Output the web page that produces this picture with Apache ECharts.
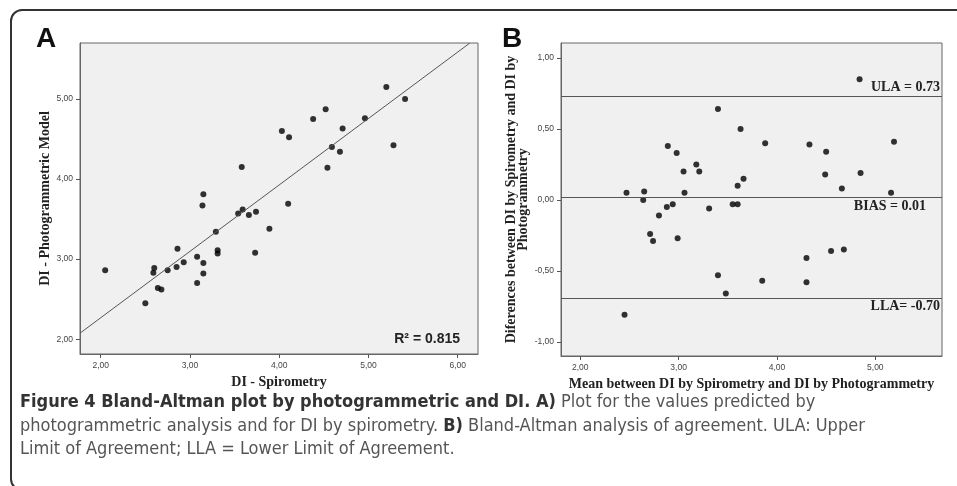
<!DOCTYPE html>
<html>
<head>
<meta charset="utf-8">
<title>Figure 4 Bland-Altman</title>
<script src="https://cdn.jsdelivr.net/npm/echarts@6/dist/echarts.min.js"></script>
<style>
  html, body { margin: 0; padding: 0; background: #fff; overflow: hidden; }
  #frame { position: absolute; left: 10px; top: 9px; width: 1000px; height: 478px;
           border: 2px solid #333; border-radius: 12px; }
  #main { position: absolute; left: 0; top: 0; width: 957px; height: 486px; }
  #caption { position: absolute; left: 20px; top: 389px; width: 935px; white-space: nowrap;
             font-family: "DejaVu Sans Condensed", "Liberation Sans Narrow", sans-serif;
             font-size: 18px; line-height: 23.5px; color: #555; }
  #caption b { color: #333; }
</style>
</head>
<body>
<div id="frame"></div>
<div id="main"></div>
<div id="caption"><b>Figure 4 Bland-Altman plot by photogrammetric and DI. A)</b> Plot for the values predicted by<br>photogrammetric analysis and for DI by spirometry. <b>B)</b> Bland-Altman analysis of agreement. ULA: Upper<br>Limit of Agreement; LLA = Lower Limit of Agreement.</div>
<script type="text/javascript">

// panel A: DI spirometry vs DI photogrammetric model
var spirometry = [5.20, 5.41, 4.52, 4.38, 4.96, 4.03, 4.11, 4.71, 4.59, 4.68, 5.28, 4.54, 3.58, 3.15,
                  3.14, 4.10, 3.54, 3.59, 3.66, 3.74, 3.89, 3.29, 3.73, 3.31, 3.31, 2.86, 3.08, 2.93,
                  3.15, 2.85, 2.75, 2.60, 2.59, 3.15, 2.05, 3.08, 2.64, 2.68, 2.50];
var photoModel = [5.15, 5.00, 4.87, 4.75, 4.76, 4.60, 4.52, 4.63, 4.40, 4.34, 4.42, 4.14, 4.15, 3.81,
                  3.67, 3.69, 3.57, 3.62, 3.55, 3.59, 3.38, 3.34, 3.08, 3.11, 3.07, 3.13, 3.03, 2.96,
                  2.95, 2.90, 2.86, 2.89, 2.83, 2.82, 2.86, 2.70, 2.64, 2.62, 2.45];
var fitLine = [[1.768, 2.075], [6.136, 5.698]];
var xTicksA = [2, 3, 4, 5, 6];
var yTicksA = [2, 3, 4, 5];

// panel B: Bland-Altman mean vs difference
var baMean = [4.84, 3.40, 3.63, 3.88, 4.33, 5.19, 2.89, 2.98, 4.50, 3.18, 3.05, 3.21, 4.49, 4.85,
              3.66, 3.60, 4.66, 2.47, 2.65, 3.06, 5.16, 2.64,
              2.88, 2.94, 2.80, 3.31, 3.55, 3.60, 2.71, 2.74, 2.99, 4.55, 4.68, 4.30, 3.40, 3.85,
              4.30, 3.48, 2.45];
var baDiff = [0.85, 0.64, 0.50, 0.40, 0.39, 0.41, 0.38, 0.33, 0.34, 0.25, 0.20, 0.20, 0.18, 0.19,
              0.15, 0.10, 0.08, 0.05, 0.06, 0.05, 0.05, 0.00,
              -0.05, -0.03, -0.11, -0.06, -0.03, -0.03, -0.24, -0.29, -0.27, -0.36, -0.35, -0.41, -0.53, -0.57,
              -0.58, -0.66, -0.81];
var limitValues = [0.73, 0.022, -0.695];
var limitLabels = ['ULA = 0.73', 'BIAS = 0.01', 'LLA= -0.70'];
var xTicksB = [2, 3, 4, 5];
var yTicksB = [-1, -0.5, 0, 0.5, 1];

function fmt(v) { return v.toFixed(2).replace('.', ','); }
function pairs(xs, ys) { return xs.map(function (x, i) { return [x, ys[i]]; }); }

var serifBold = { fontFamily: 'Liberation Serif', fontWeight: 'bold', fontSize: 14, color: '#222' };

function valueAxis(idx, min, max, ticks, extra) {
    var ax = {
        type: 'value', gridIndex: idx, min: min, max: max,
        splitLine: { show: false },
        axisLine: { show: true, onZero: false, lineStyle: { color: '#666', width: 1 } },
        axisTick: { show: true, length: 4, lineStyle: { color: '#555' }, customValues: ticks },
        axisLabel: { fontFamily: 'Liberation Sans', fontSize: 8.5, color: '#444', margin: 7,
                     customValues: ticks, formatter: fmt },
        nameLocation: 'middle',
        nameTextStyle: serifBold
    };
    for (var k in extra) ax[k] = extra[k];
    return ax;
}

var myChart = echarts.init(document.getElementById('main'));
var markData = limitValues.map(function (v, i) {
    var pos = i === 0 ? 'insideEndTop' : 'insideEndBottom';
    return {
        yAxis: v,
        label: { show: true, formatter: limitLabels[i], position: pos, distance: 2,
                 padding: i === 1 ? [0, 14, 0, 0] : 0,
                 fontFamily: 'Liberation Serif', fontWeight: 'bold', fontSize: 14, color: '#222' }
    };
});

var option = {
    animation: false,
    grid: [
        { left: 80, top: 43, width: 398, height: 311, show: true, backgroundColor: '#f0f0f0',
          borderColor: '#666', borderWidth: 1 },
        { left: 561, top: 43, width: 381, height: 313, show: true, backgroundColor: '#f0f0f0',
          borderColor: '#666', borderWidth: 1 }
    ],
    xAxis: [
        valueAxis(0, 1.768, 6.227, xTicksA, { name: 'DI - Spirometry', nameGap: 20 }),
        valueAxis(1, 1.804, 5.678, xTicksB,
                  { name: 'Mean between DI by Spirometry and DI by Photogrammetry', nameGap: 20 })
    ],
    yAxis: [
        valueAxis(0, 1.815, 5.698, yTicksA, { name: 'DI - Photogrammetric Model', nameGap: 23 }),
        valueAxis(1, -1.10, 1.106, yTicksB,
                  { name: 'Diferences between DI by Spirometry and DI by\nPhotogrammetry', nameGap: 26,
                    nameTextStyle: { fontFamily: 'Liberation Serif', fontWeight: 'bold', fontSize: 14,
                                     color: '#222', lineHeight: 12 } })
    ],
    graphic: [
        { type: 'text', left: 36, top: 25, style: { text: 'A', fontFamily: 'Liberation Sans',
          fontWeight: 'bold', fontSize: 28, fill: '#111' } },
        { type: 'text', left: 502, top: 25, style: { text: 'B', fontFamily: 'Liberation Sans',
          fontWeight: 'bold', fontSize: 28, fill: '#111' } },
        { type: 'text', right: 497, top: 332, style: { text: 'R\u00b2 = 0.815', fontFamily: 'Liberation Sans',
          fontWeight: 'bold', fontSize: 14, fill: '#222' } }
    ],
    series: [
        { type: 'line', xAxisIndex: 0, yAxisIndex: 0, data: fitLine, symbol: 'none',
          lineStyle: { color: '#555', width: 1 }, silent: true },
        { type: 'scatter', xAxisIndex: 0, yAxisIndex: 0, data: pairs(spirometry, photoModel),
          symbolSize: 6, itemStyle: { color: '#000' } },
        { type: 'scatter', xAxisIndex: 1, yAxisIndex: 1, data: pairs(baMean, baDiff),
          symbolSize: 6, itemStyle: { color: '#000' },
          markLine: { silent: true, symbol: 'none', lineStyle: { color: '#555', width: 1, type: 'solid' },
                      data: markData } }
    ]
};
myChart.setOption(option);
</script>
</body>
</html>
